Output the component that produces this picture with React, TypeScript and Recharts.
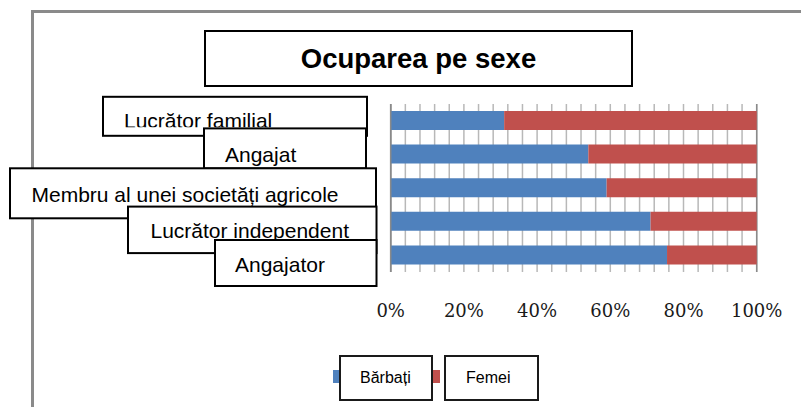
import React from 'react'
import { BarChart, Bar, XAxis, YAxis, CartesianGrid } from 'recharts'

// values (share of men / women, %)
const categories = [
  'Lucrător familial',
  'Angajat',
  'Membru al unei societăți agricole',
  'Lucrător independent',
  'Angajator',
]
const barbati = [31, 54, 59, 71, 75.5]
const femei = [69, 46, 41, 29, 24.5]

const majorTicks = [0, 20, 40, 60, 80, 100]
const minorTicks = [0, 4, 8, 12, 16, 20, 24, 28, 32, 36, 40, 44, 48, 52, 56, 60, 64, 68, 72, 76, 80, 84, 88, 92, 96, 100]

const seriesNames = ['Bărbați', 'Femei']
const seriesKeys = ['barbati', 'femei']
const seriesColors = ['#4F81BD', '#C0504D']

const title = 'Ocuparea pe sexe'

const data = categories.map((name, i) => ({ name, barbati: barbati[i], femei: femei[i] }))

// the Excel label boxes sit at odd spots; offsets are relative to the tick y
const labelBoxes = [
  { left: 103, dTop: -24, width: 264, height: 39, textX: 124, dBase: 31, clip: 30.5 },
  { left: 204, dTop: -26, width: 162, height: 40, textX: 225, dBase: 33.5, clip: 40 },
  { left: 10, dTop: -19.7, width: 366, height: 50, textX: 31.5, dBase: 33.5, clip: 50 },
  { left: 128, dTop: -15, width: 248.5, height: 46.5, textX: 150.5, dBase: 31.6, clip: 46.5 },
  { left: 215, dTop: -15.2, width: 161.5, height: 46, textX: 235, dBase: 31.7, clip: 46 },
]

const legendBoxes = [
  { markerLeft: 333, boxLeft: 339, width: 94, pad: 19 },
  { markerLeft: 433, boxLeft: 444, width: 95, pad: 20 },
]

const sans = '"Liberation Sans", Arial, sans-serif'

function CategoryTick(props: any) {
  const { y, payload, index } = props
  const b = labelBoxes[index]
  const top = y + b.dTop
  const id = `lbl-clip-${index}`
  return (
    <g>
      <defs>
        <clipPath id={id}>
          <rect x={b.left} y={top} width={b.width} height={b.clip} />
        </clipPath>
      </defs>
      <rect x={b.left} y={top} width={b.width} height={b.height} fill="#fff" stroke="#000" strokeWidth={2} />
      <text
        x={b.textX}
        y={top + b.dBase}
        clipPath={`url(#${id})`}
        fontFamily={sans}
        fontSize={21}
        fill="#000"
      >
        {payload.value}
      </text>
    </g>
  )
}

function PercentTick(props: any) {
  const { x, y, payload } = props
  if (!majorTicks.includes(payload.value)) return <g />
  return (
    <text x={x} y={y + 45} textAnchor="middle" fontFamily='"DejaVu Serif", serif' fontSize={18} fill="#1a1a1a">
      {payload.value}%
    </text>
  )
}

export default function App() {
  return (
    <div style={{ position: 'absolute', left: 0, top: 0, width: 801, height: 407, overflow: 'hidden', background: '#fff' }}>
      {/* outer chart frame */}
      <div
        style={{
          position: 'absolute',
          left: 31,
          top: 10,
          width: 800,
          height: 420,
          borderTop: '3px solid #8a8a8a',
          borderLeft: '3px solid #8a8a8a',
        }}
      />

      <div style={{ position: 'absolute', left: 0, top: 0 }}>
        <BarChart
          width={801}
          height={407}
          data={data}
          layout="vertical"
          margin={{ top: 104, right: 44.3, bottom: 105, left: 0 }}
        >
          {/* light grid every 4%, darker one every 20% */}
          <CartesianGrid horizontal={false} stroke="#b8b8b8" strokeWidth={1.5} />
          <CartesianGrid xAxisId="major" horizontal={false} stroke="#8a8a8a" strokeWidth={1.5} />
          <XAxis
            type="number"
            domain={[0, 100]}
            ticks={minorTicks}
            interval={0}
            tick={<PercentTick />}
            axisLine={false}
            tickLine={false}
            tickSize={0}
            tickMargin={0}
            height={30}
          />
          <XAxis
            xAxisId="major"
            type="number"
            domain={[0, 100]}
            ticks={majorTicks}
            interval={0}
            tick={false}
            axisLine={false}
            tickLine={false}
            height={0}
          />
          <YAxis
            type="category"
            dataKey="name"
            width={390.7}
            interval={0}
            tick={<CategoryTick />}
            axisLine={{ stroke: '#8a8a8a', strokeWidth: 1.5 }}
            tickLine={false}
          />
          {seriesKeys.map((k, i) => (
            <Bar
              key={k}
              dataKey={k}
              name={seriesNames[i]}
              stackId="a"
              fill={seriesColors[i]}
              barSize={19}
              isAnimationActive={false}
            />
          ))}
        </BarChart>
      </div>

      {/* title */}
      <div
        style={{
          position: 'absolute',
          left: 204,
          top: 30,
          width: 429,
          height: 57,
          boxSizing: 'border-box',
          border: '2px solid #000',
          background: '#fff',
          display: 'flex',
          alignItems: 'center',
          justifyContent: 'center',
          fontFamily: sans,
          fontWeight: 'bold',
          fontSize: 27.5,
          color: '#000',
        }}
      >
        {title}
      </div>

      {/* legend */}
      {seriesNames.map((n, i) => {
        const l = legendBoxes[i]
        return (
          <React.Fragment key={n}>
            <div
              style={{
                position: 'absolute',
                left: l.markerLeft,
                top: 370,
                width: 7,
                height: 13,
                background: seriesColors[i],
              }}
            />
            <div
              style={{
                position: 'absolute',
                left: l.boxLeft,
                top: 355,
                width: l.width,
                height: 46,
                boxSizing: 'border-box',
                border: '2px solid #1a1a1a',
                background: '#fff',
                paddingLeft: l.pad,
                display: 'flex',
                alignItems: 'center',
                fontFamily: sans,
                fontSize: 16,
                color: '#000',
              }}
            >
              {n}
            </div>
          </React.Fragment>
        )
      })}
    </div>
  )
}
